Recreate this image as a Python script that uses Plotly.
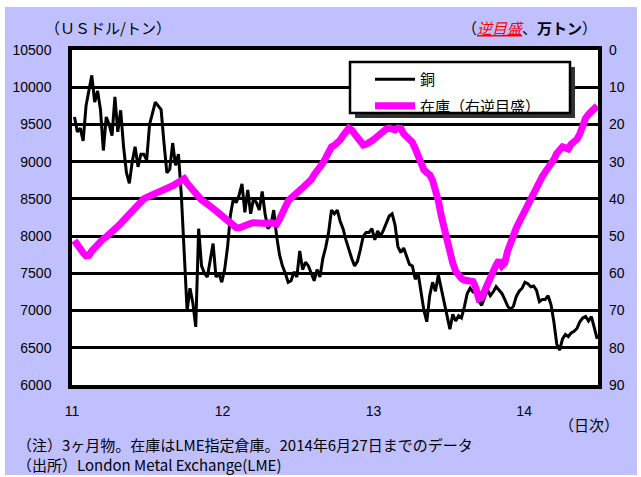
import pandas as pd
import plotly.graph_objects as go

# Weekly (Friday) observation dates, Jan 2011 - 27 Jun 2014
dates = pd.date_range("2011-01-07", "2014-06-27", freq="W-FRI")

# LME copper 3-month price (USD/ton)
copper = [
    9600, 9400, 9450, 9280, 9750, 9950, 10160, 9800, 9950, 9700,
    9150, 9600, 9500, 9350, 9870, 9400, 9690, 9200, 8850, 8710,
    9000, 9200, 8930, 9100, 9100, 9020, 9500, 9650, 9800, 9750,
    9700, 9250, 8850, 8900, 9250, 8950, 9100, 8550, 7800, 7000,
    7300, 7100, 6780, 8100, 7600, 7500, 7450, 7700, 7900, 7450,
    7500, 7380, 7550, 7850, 8280, 8500, 8450, 8550, 8700, 8320,
    8620, 8300, 8500, 8450, 8350, 8600, 8300, 8100, 8150, 8350,
    8000, 7750, 7600, 7500, 7380, 7400, 7520, 7450, 7800, 7550,
    7650, 7600, 7500, 7400, 7550, 7450, 7700, 7850, 8050, 8350,
    8300, 8350, 8200, 8100, 7950, 7820, 7700, 7600, 7660, 7820,
    8000, 8050, 8050, 8100, 7950, 8070, 8000, 8080, 8180, 8270,
    8300, 8150, 7860, 7780, 7840, 7720, 7620, 7600, 7420, 7500,
    7240, 7000, 6850, 7200, 7380, 7260, 7480, 7300, 7100, 6920,
    6750, 6950, 6860, 6930, 6900, 7050, 7230, 7300, 7250, 7240,
    7130, 7070, 7180, 7280, 7200, 7250, 7320, 7270, 7230, 7150,
    7060, 7010, 7060, 7190, 7260, 7300, 7380, 7360, 7320, 7330,
    7270, 7120, 7150, 7150, 7200, 7080, 6850, 6550, 6470, 6620,
    6680, 6650, 6700, 6720, 6760, 6850, 6900, 6920, 6860, 6920,
    6750, 6620,
]

# LME warehouse stocks (10,000 tons), plotted on a reversed right axis
stock = [
    51.2, 52.5, 53.5, 54.5, 55.3, 55.2, 54.0, 53.0, 52.2, 51.3,
    50.7, 50.2, 49.6, 49.0, 48.2, 47.4, 46.6, 45.8, 44.8, 43.7,
    42.8, 42.0, 41.2, 40.4, 40.0, 39.6, 39.2, 38.8, 38.3, 38.0,
    37.6, 37.3, 37.0, 36.8, 36.5, 36.0, 35.6, 34.9, 34.6, 35.8,
    36.8, 37.6, 38.3, 39.4, 40.3, 40.8, 41.2, 42.0, 42.6, 43.3,
    44.0, 44.8, 45.5, 46.1, 46.8, 47.3, 47.7, 47.8, 47.4, 46.9,
    46.5, 46.6, 46.4, 46.5, 46.3, 46.6, 46.5, 46.6, 46.4, 46.7,
    46.8, 45.5, 43.8, 42.0, 40.6, 39.8, 38.9, 38.3, 37.7, 37.0,
    36.4, 35.8, 34.8, 33.5, 32.6, 31.5, 30.4, 29.0, 27.2, 26.0,
    25.6, 25.0, 24.2, 23.0, 21.8, 21.0, 21.5, 22.6, 24.0, 25.0,
    25.5, 25.3, 25.0, 24.4, 23.8, 23.0, 22.3, 21.6, 21.2, 21.0,
    21.2, 21.5, 21.0, 21.1, 22.5, 23.4, 24.2, 24.8, 26.5, 28.8,
    31.0, 32.2, 32.9, 33.5, 35.0, 37.5, 40.5, 44.5, 48.0, 52.0,
    55.0, 57.3, 59.4, 60.5, 61.4, 61.8, 61.8, 61.8, 62.2, 64.0,
    66.8, 66.5, 65.0, 63.3, 61.7, 59.5, 57.8, 56.5, 58.0, 57.2,
    54.0, 51.5, 49.3, 47.8, 46.2, 44.6, 42.6, 41.0, 39.4, 38.2,
    37.0, 35.4, 34.0, 32.8, 31.8, 30.5, 29.4, 27.8, 26.9, 26.0,
    26.3, 26.6, 25.3, 24.5, 24.0, 22.5, 19.8, 18.3, 17.3, 16.5,
    15.6, 15.0,
]

year_ticks = ["2011-01-01", "2012-01-01", "2013-01-01", "2014-01-01"]
year_labels = ["11", "12", "13", "14"]

JP = "Noto Sans CJK JP"
NUM = "Liberation Sans"
BG = "#C0C0FF"

fig = go.Figure()
fig.add_trace(go.Scatter(
    x=dates, y=copper, name="銅", mode="lines",
    line=dict(color="black", width=3), legendgroup="a",
))
fig.add_trace(go.Scatter(
    x=dates, y=stock, name="在庫（右逆目盛）", mode="lines", yaxis="y2",
    line=dict(color="#FF00FF", width=7), legendgroup="b",
))

W, H = 641, 477
L, R, T, B = 72, 43, 50, 92
pw, ph = W - L - R, H - T - B


def px(x):
    return (x - L) / pw


def py(y):
    return (H - B - y) / ph


shapes = []
# white outer strips around the lavender panel
for (x0, x1, y0, y1) in [(-2, W + 2, -2, 7), (-2, 5, -2, H + 2),
                         (637, W + 2, -2, H + 2), (-2, W + 2, 475, H + 2)]:
    shapes.append(dict(type="rect", xref="paper", yref="paper",
                       x0=px(x0), x1=px(x1), y0=py(y1), y1=py(y0),
                       fillcolor="white", line=dict(width=0), layer="above"))
# legend shadow and box
shapes.append(dict(type="rect", xref="paper", yref="paper",
                   x0=px(355), x1=px(575), y0=py(118), y1=py(67),
                   fillcolor="#333333", line=dict(width=0), layer="above"))
shapes.append(dict(type="rect", xref="paper", yref="paper",
                   x0=px(350), x1=px(570), y0=py(113), y1=py(62),
                   fillcolor="white", line=dict(color="black", width=2.5),
                   layer="above"))

annotations = [
    dict(text="（ＵＳドル/トン）", x=px(43), y=py(28), xref="paper", yref="paper",
         xanchor="left", yanchor="middle", showarrow=False,
         font=dict(family=JP, size=15, color="black")),
    dict(text="（<span style='color:#FF0000'><i><u>逆目盛</u></i></span>、<b>万トン</b>）",
         x=px(599), y=py(27), xref="paper", yref="paper",
         xanchor="right", yanchor="middle", showarrow=False,
         font=dict(family=JP, size=15, color="black")),
    dict(text="（日次）", x=px(621), y=py(425), xref="paper", yref="paper",
         xanchor="right", yanchor="middle", showarrow=False,
         font=dict(family=JP, size=15, color="black")),
    dict(text="（注）3ヶ月物。在庫はLME指定倉庫。2014年6月27日までのデータ",
         x=px(15), y=py(444), xref="paper", yref="paper",
         xanchor="left", yanchor="middle", showarrow=False,
         font=dict(family=JP, size=15, color="black")),
    dict(text="（出所）London Metal Exchange(LME)",
         x=px(15), y=py(464), xref="paper", yref="paper",
         xanchor="left", yanchor="middle", showarrow=False,
         font=dict(family=JP, size=15, color="black")),
]

fig.update_layout(
    width=W, height=H, autosize=False,
    margin=dict(l=L, r=R, t=T, b=B, pad=0),
    paper_bgcolor=BG, plot_bgcolor="white",
    showlegend=True,
    legend=dict(x=px(370), y=py(63), xanchor="left", yanchor="top",
                bgcolor="rgba(0,0,0,0)", borderwidth=0,
                font=dict(family=JP, size=15, color="black"),
                tracegroupgap=4, itemwidth=40),
    xaxis=dict(type="date", range=["2011-01-01", "2014-06-29"],
               tickmode="array", tickvals=year_ticks, ticktext=year_labels,
               showgrid=False, zeroline=False, ticks="",
               showline=True, linecolor="black", linewidth=3.5, mirror=True,
               tickfont=dict(family=NUM, size=14, color="black"),
               ticklabelstandoff=10),
    yaxis=dict(range=[6000, 10500], tick0=6000, dtick=500, tickformat="d",
               showgrid=True, gridcolor="black", gridwidth=2.5,
               zeroline=False, ticks="",
               showline=True, linecolor="black", linewidth=3.5, mirror=True,
               tickfont=dict(family=NUM, size=14, color="black"),
               ticklabelstandoff=14),
    yaxis2=dict(overlaying="y", side="right", range=[90, 0], tick0=0, dtick=10,
                showgrid=False, zeroline=False, ticks="", showline=False,
                tickfont=dict(family=NUM, size=14, color="black"),
                ticklabelstandoff=10),
    shapes=shapes,
    annotations=annotations,
    hovermode=False,
)

fig.write_html("out.html")
